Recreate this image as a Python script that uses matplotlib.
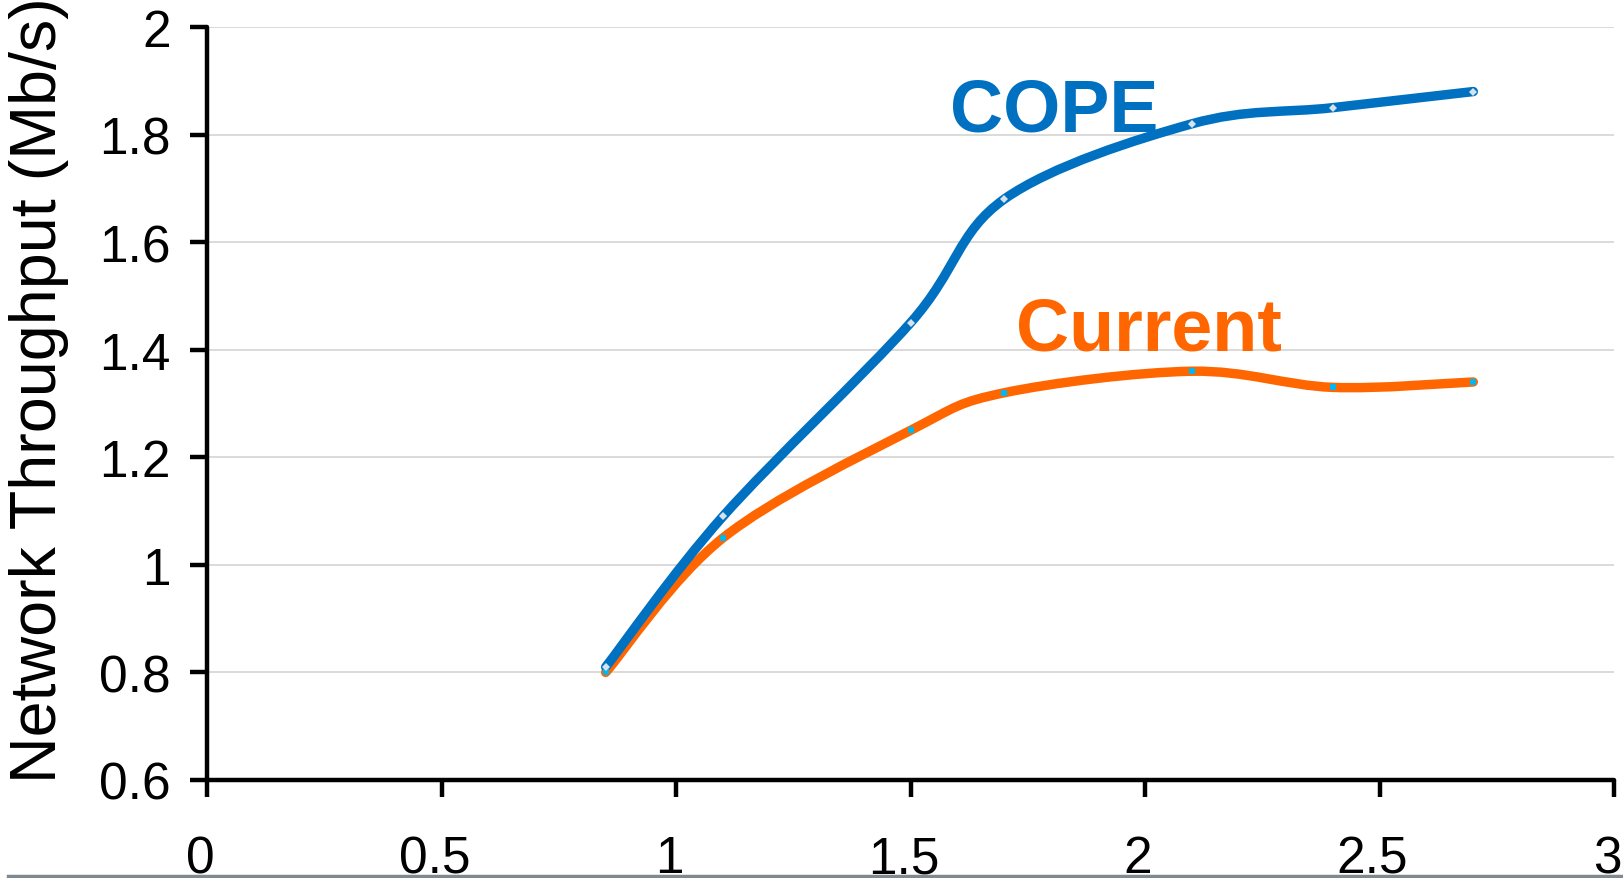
import numpy as np
import matplotlib
matplotlib.use("Agg")
import matplotlib.pyplot as plt
from matplotlib.path import Path
from matplotlib.patches import PathPatch
from matplotlib.lines import Line2D
import matplotlib.transforms as mtransforms

plt.rcParams['font.family'] = ['Liberation Sans', 'DejaVu Sans']

# ---- data ----
x_vals = [0.85, 1.1, 1.5, 1.7, 2.1, 2.4, 2.7]
cope = [0.81, 1.09, 1.45, 1.68, 1.82, 1.85, 1.88]
current = [0.80, 1.05, 1.25, 1.32, 1.36, 1.33, 1.34]
x_ticks = [0, 0.5, 1, 1.5, 2, 2.5, 3]
x_tick_labels = ['0', '0.5', '1', '1.5', '2', '2.5', '3']
y_ticks = [0.6, 0.8, 1.0, 1.2, 1.4, 1.6, 1.8, 2.0]
y_tick_labels = ['0.6', '0.8', '1', '1.2', '1.4', '1.6', '1.8', '2']
y_label = 'Network Throughput (Mb/s)'

BLUE = '#0070C0'
ORANGE = '#FF6600'

W, H = 1624, 879
fig = plt.figure(figsize=(W / 100, H / 100), dpi=100)
ax = fig.add_axes([207 / W, 1 - 781 / H, (1614 - 207) / W, (781 - 28) / H])
ax.set_xlim(0, 3)
ax.set_ylim(0.6, 2.0)


def smooth_path(xs, ys):
    pts = np.column_stack([xs, ys]).astype(float)
    n = len(pts)
    verts = [pts[0]]
    codes = [Path.MOVETO]
    for i in range(n - 1):
        p_prev = pts[i - 1] if i > 0 else pts[i]
        p_next2 = pts[i + 2] if i + 2 < n else pts[i + 1]
        c1 = pts[i] + (pts[i + 1] - p_prev) / 6.0
        c2 = pts[i + 1] - (p_next2 - pts[i]) / 6.0
        verts += [c1, c2, pts[i + 1]]
        codes += [Path.CURVE4] * 3
    return Path(verts, codes)


for ys, col, z in [(current, ORANGE, 3), (cope, BLUE, 4)]:
    patch = PathPatch(smooth_path(x_vals, ys), facecolor='none', edgecolor=col,
                      lw=6.8, capstyle='round', joinstyle='round', zorder=z)
    ax.add_patch(patch)

ax.plot(x_vals, current, ls='none', marker='s', ms=5, mfc='#00B8F0',
        mec='#00B8F0', mew=0, zorder=5)
ax.plot(x_vals, cope, ls='none', marker='D', ms=4.5, mfc='#D6E2EC',
        mec='#D6E2EC', mew=0, zorder=6)

# grid
ax.set_yticks(y_ticks)
ax.set_yticklabels(y_tick_labels)
ax.set_xticks(x_ticks)
ax.set_xticklabels(x_tick_labels)
ax.yaxis.grid(True, color='#D4D4D4', lw=1.2)
ax.set_axisbelow(True)

for s in ['top', 'right']:
    ax.spines[s].set_visible(False)
for s in ['left', 'bottom']:
    ax.spines[s].set_linewidth(3.2)
    ax.spines[s].set_color('black')
    ax.spines[s].set_capstyle('round')

ax.tick_params(axis='both', direction='out', length=12, width=3.2, color='black',
               labelsize=37)
ax.tick_params(axis='y', pad=14)
ax.tick_params(axis='x', pad=27)
offset = mtransforms.ScaledTranslation(-7 / 100, 0, fig.dpi_scale_trans)
for lbl in ax.get_xticklabels():
    lbl.set_transform(lbl.get_transform() + offset)

fig.text(39 / W, 1 - 390 / H, y_label, rotation=90, ha='center', va='center',
         fontsize=46.5)

ax.text(1.806, 1.808, 'COPE', color=BLUE, fontsize=53, fontweight='bold',
        ha='center', va='baseline')
ax.text(2.008, 1.401, 'Current', color=ORANGE, fontsize=53, fontweight='bold',
        ha='center', va='baseline')

# bottom separator line
fig.add_artist(Line2D([8 / W, 1.0], [1 - 877 / H, 1 - 877 / H],
                      transform=fig.transFigure, color='#7F8A90', lw=2.5,
                      zorder=10))
fig.add_artist(plt.Rectangle((0, 0), 1, 1 - 878.5 / H, transform=fig.transFigure,
                             facecolor='white', edgecolor='none', zorder=9))

fig.savefig('out.png', dpi=100)
